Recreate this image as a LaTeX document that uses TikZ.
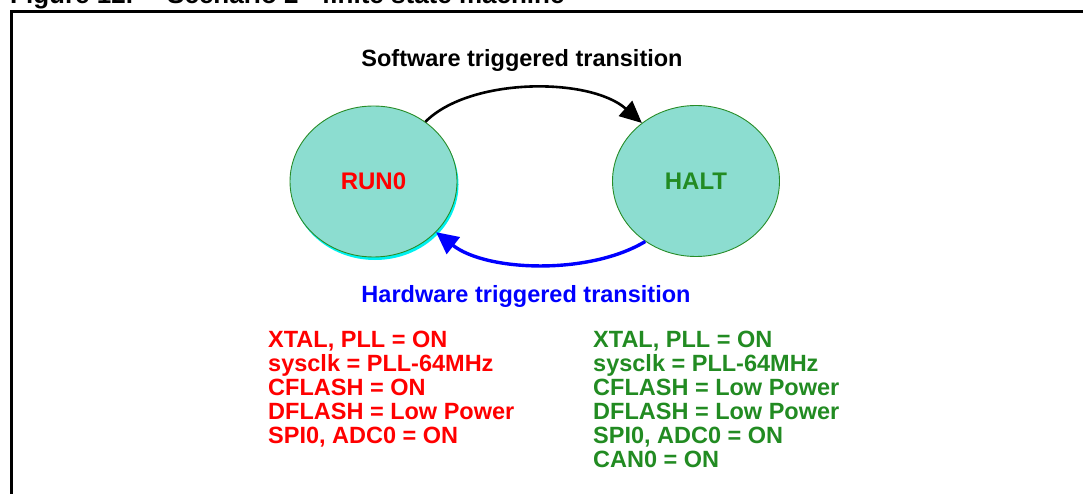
\documentclass[tikz,border=0pt]{standalone}
\usepackage{fontspec}
\setmainfont{Liberation Sans}
\usetikzlibrary{shapes.geometric,arrows.meta,shadows}

\definecolor{statefill}{RGB}{140,221,208}
\definecolor{stateedge}{RGB}{40,140,40}
\definecolor{okgreen}{RGB}{34,139,34}
\definecolor{shadowcyan}{RGB}{0,240,240}

\tikzset{
  state/.style={ellipse, draw=stateedge, line width=0.9pt, fill=statefill,
    minimum width=167pt, minimum height=151pt, inner sep=0pt,
    font=\bfseries\fontsize{24}{24}\selectfont},
  label/.style={inner sep=0pt, font=\bfseries\fontsize{23.5}{24}\selectfont},
  info/.style={label, align=left, anchor=north west},
  swarrow/.style={line width=2.6pt, -{Triangle[length=22pt,width=20pt]}},
  hwarrow/.style={line width=3.4pt, blue, -{Triangle[length=22pt,width=21pt]}},
}

\begin{document}
\begin{tikzpicture}[x=1pt, y=-1pt]
  \useasboundingbox (0,0) rectangle (1083,494);
  \clip (0,0) rectangle (1083,494);

  % caption above the frame
  \node[label, anchor=base west, font=\bfseries\fontsize{26}{28}\selectfont]
    (fignum) at (10,4) {Figure 12.};
  \node[label, anchor=base west, font=\bfseries\fontsize{26}{28}\selectfont]
    (figtitle) at (167,4) {Scenario 2 - finite state machine};

  % figure frame
  \draw[line width=3pt] (11.5,11.5) rectangle (1120,560);

  % states
  \node[state, text=red, drop shadow={shadow xshift=1.5pt, shadow yshift=-3pt,
        fill=shadowcyan, opacity=1}] (run) at (373.5,181.5) {RUN0};
  \node[state, text=okgreen] (halt) at (696,181) {HALT};

  % transitions
  \draw[swarrow] (run.49) .. controls (470,77) and (590,77) .. (halt.133);
  \draw[hwarrow] (halt.230) .. controls (590,275) and (487,272) .. (run.-39);

  \node[label, anchor=base] (swlabel) at (522,67) {Software triggered transition};
  \node[label, anchor=base, text=blue] (hwlabel) at (526,302) {Hardware triggered transition};

  % state settings
  \node[info, text=red] (runinfo) at (268,331) {XTAL, PLL = ON\\sysclk = PLL-64MHz\\CFLASH = ON\\DFLASH = Low Power\\SPI0, ADC0 = ON};
  \node[info, text=okgreen] (haltinfo) at (593,331) {XTAL, PLL = ON\\sysclk = PLL-64MHz\\CFLASH = Low Power\\DFLASH = Low Power\\SPI0, ADC0 = ON\\CAN0 = ON};
\end{tikzpicture}
\end{document}
